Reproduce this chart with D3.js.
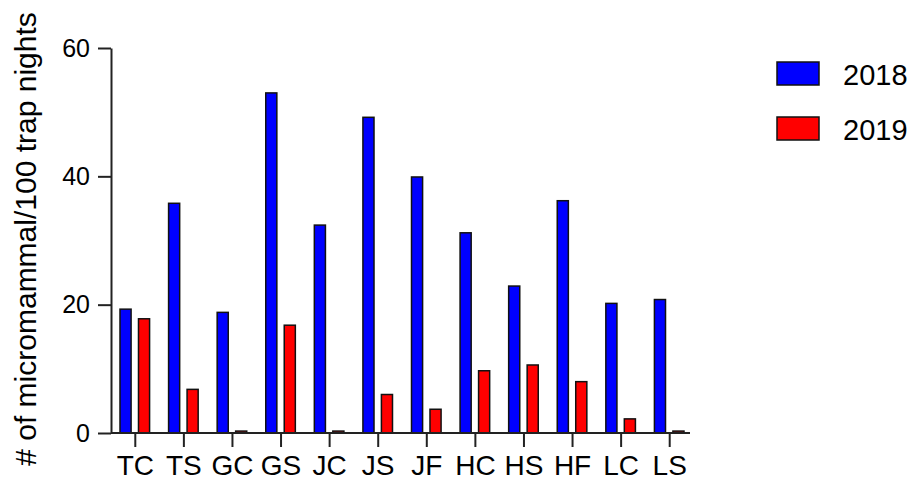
<!DOCTYPE html>
<html>
<head>
<meta charset="utf-8">
<script src="https://cdn.jsdelivr.net/npm/d3@7"></script>
<style>
  body { margin: 0; background: #fff; }
  svg { font-family: "Liberation Sans", Arial, sans-serif; }
  .axis path, .axis line { stroke: #222; stroke-width: 2; }
  .axis text { fill: #000; }
  .axis--y text { font-size: 25px; }
  .axis--x text { font-size: 28px; }
  .bar { stroke: #111; stroke-width: 1.5; }
</style>
</head>
<body>
<svg width="916" height="486"></svg>
<script>
// categories en waarden
var sites = ["TC", "TS", "GC", "GS", "JC", "JS", "JF", "HC", "HS", "HF", "LC", "LS"];
var years = ["2018", "2019"];
var values2018 = [19.3, 35.8, 18.8, 53, 32.4, 49.2, 39.9, 31.2, 22.9, 36.2, 20.2, 20.8];
var values2019 = [17.8, 6.8, 0.3, 16.8, 0.3, 6.0, 3.7, 9.7, 10.6, 8.0, 2.2, 0.3];
var yTicks = [0, 20, 40, 60];
var colors = ["#0000ff", "#ff0000"];

var svg = d3.select("svg"),
    margin = { top: 48, right: 226, bottom: 53, left: 111 },
    width = +svg.attr("width") - margin.left - margin.right,
    height = +svg.attr("height") - margin.top - margin.bottom;

var g = svg.append("g")
    .attr("transform", "translate(" + margin.left + "," + margin.top + ")");

// x schaal voor de groepen, en een binnen-schaal voor de twee jaren
var x0 = d3.scaleBand().domain(sites).range([0, 583]).paddingInner(0).paddingOuter(0);
var x1 = d3.scaleBand().domain(years).range([9, x0.bandwidth() - 10]).paddingInner(0.4);
var y = d3.scaleLinear().domain([0, 60]).range([height, 0]);

var data = sites.map(function (s, i) {
    return { site: s, vals: [values2018[i], values2019[i]] };
});

// bars
var groups = g.selectAll(".group")
    .data(data)
    .enter().append("g")
    .attr("class", "group")
    .attr("transform", function (d) { return "translate(" + x0(d.site) + ",0)"; });

groups.selectAll("rect")
    .data(function (d) {
        return d.vals.map(function (v, j) { return { year: years[j], value: v, j: j }; });
    })
    .enter().append("rect")
    .attr("class", "bar")
    .attr("x", function (d) { return x1(d.year); })
    .attr("y", function (d) { return y(d.value); })
    .attr("width", x1.bandwidth())
    .attr("height", function (d) { return height - y(d.value); })
    .attr("fill", function (d) { return colors[d.j]; });

// x as
var xAxis = g.append("g")
    .attr("class", "axis axis--x")
    .attr("transform", "translate(0," + height + ")")
    .call(d3.axisBottom(x0).tickSize(14).tickSizeOuter(0).tickPadding(8));
xAxis.select(".domain").attr("d", "M0,0H579");

// y as
g.append("g")
    .attr("class", "axis axis--y")
    .call(d3.axisLeft(y).tickValues(yTicks).tickSize(13).tickSizeOuter(0).tickPadding(8));

// y as titel
svg.append("text")
    .attr("transform", "translate(36," + 239 + ") rotate(-90)")
    .attr("text-anchor", "middle")
    .style("font-size", "30px")
    .text("# of micromammal/100 trap nights");

// legenda
var legend = svg.append("g")
    .attr("transform", "translate(777,62)");

var item = legend.selectAll(".item")
    .data(years)
    .enter().append("g")
    .attr("class", "item")
    .attr("transform", function (d, i) { return "translate(0," + (i * 55) + ")"; });

item.append("rect")
    .attr("width", 42)
    .attr("height", 23)
    .attr("fill", function (d, i) { return colors[i]; })
    .attr("stroke", "#111")
    .attr("stroke-width", 1.5);

item.append("text")
    .attr("x", 66)
    .attr("y", 22.5)
    .style("font-size", "29px")
    .text(function (d) { return d; });
</script>
</body>
</html>
